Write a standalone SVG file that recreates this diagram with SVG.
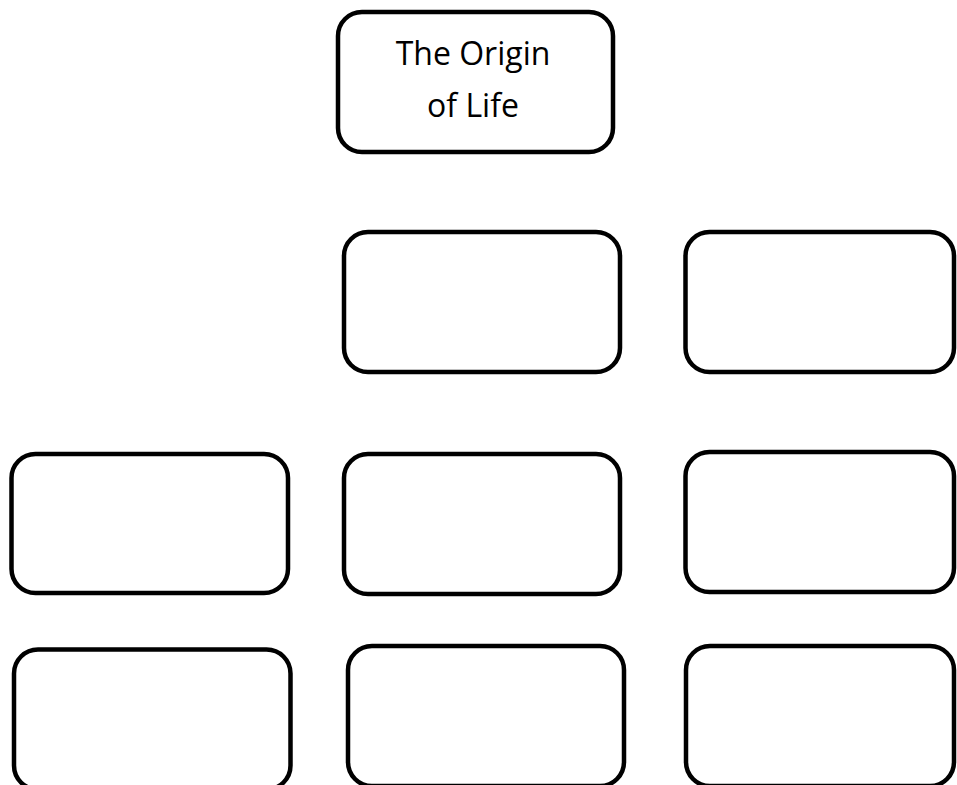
<svg xmlns="http://www.w3.org/2000/svg" width="957" height="785" viewBox="0 0 957 785">
<style>
.box{fill:#fff;stroke:#000;stroke-width:4.5}
.lbl{font-family:"Open Sans","Liberation Sans",sans-serif;font-size:32px;fill:#000;text-anchor:middle}
</style>
<rect width="957" height="785" fill="#fff"/>
<g id="connectors"></g>
<g id="n-origin"><rect class="box" x="338" y="12" width="275" height="140" rx="24"/>
<text class="lbl" x="473" y="65">The Origin</text><text class="lbl" x="473" y="117">of Life</text></g>
<g id="n-r2c2"><rect class="box" x="344" y="232" width="276" height="140" rx="24"/></g>
<g id="n-r2c3"><rect class="box" x="685.5" y="232" width="268.5" height="140" rx="24"/></g>
<g id="n-r3c1"><rect class="box" x="11.5" y="454" width="276.5" height="139" rx="24"/></g>
<g id="n-r3c2"><rect class="box" x="344" y="454" width="276" height="140" rx="24"/></g>
<g id="n-r3c3"><rect class="box" x="685.5" y="452" width="268.5" height="140" rx="24"/></g>
<g id="n-r4c1"><rect class="box" x="14" y="649.5" width="276.5" height="140" rx="24"/></g>
<g id="n-r4c2"><rect class="box" x="348" y="646" width="276" height="140" rx="24"/></g>
<g id="n-r4c3"><rect class="box" x="686" y="646" width="268" height="140" rx="24"/></g>
</svg>
